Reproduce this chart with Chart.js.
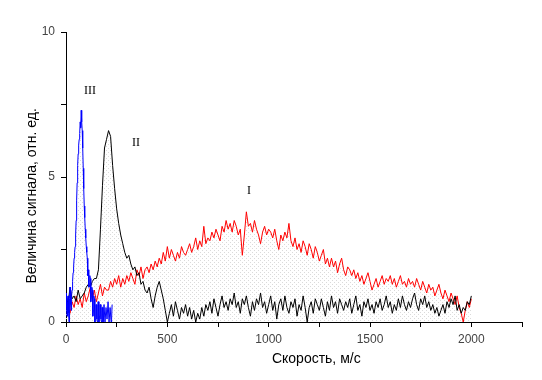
<!DOCTYPE html>
<html>
<head>
<meta charset="utf-8">
<script src="https://cdn.jsdelivr.net/npm/chart.js@4.4.1/dist/chart.umd.min.js"></script>
<style>
  html, body { margin: 0; padding: 0; background: #fff; }
  canvas { display: block; }
</style>
</head>
<body>
<canvas id="chart" width="542" height="380"></canvas>
<script>
'use strict';
// Signal vs. speed, three spectra (I red, II black, III blue)
const xTitle = 'Скорость, м/с';
const yTitle = 'Величина сигнала, отн. ед.';
const xTickLabels = [0, 500, 1000, 1500, 2000];
const yTickLabels = [0, 5, 10];

// curve I (red), speed 10..2000 step 10
const redStart = 10;
const redStep = 10;
const redValues = [
  0.5, 0.3, 0.7, 0.5, 0.9, 0.6, 0.8, 0.5, 1.0, 0.7,
  0.9, 1.2, 0.8, 1.1, 0.7, 1.0, 1.3, 0.9, 1.2, 1.1,
  1.1, 1.4, 1.2, 1.5, 1.3, 1.6, 1.2, 1.5, 1.3, 1.6,
  1.4, 1.7, 1.5, 1.3, 1.8, 1.6, 1.9, 1.5, 1.8, 1.9,
  1.7, 2.0, 1.8, 2.1, 1.9, 2.2, 2.0, 2.4, 2.1, 2.6,
  2.2, 2.5, 2.3, 2.1, 2.4, 2.2, 2.6, 2.4, 2.3, 2.5,
  2.7, 2.4, 2.6, 2.9, 2.5, 2.8, 2.6, 3.3, 2.7, 2.9,
  2.8, 3.1, 2.9, 3.2, 3.0, 2.8, 3.3, 3.1, 3.5, 3.2,
  3.4, 3.1, 3.5, 3.3, 3.0, 3.2, 2.3, 3.0, 3.8, 3.3,
  3.4, 3.1, 3.5, 3.2, 3.0, 2.7, 3.1, 3.3, 3.0, 3.2,
  3.1, 2.9, 3.2, 2.8, 2.5, 3.0, 2.8, 3.1, 2.9, 3.4,
  2.8, 2.6, 2.9, 2.5, 2.7, 2.4, 2.8, 2.6, 2.3, 2.7,
  2.5, 2.2, 2.6, 2.4, 2.1, 2.3, 2.5, 2.0, 2.2, 1.9,
  2.2, 1.9, 2.1, 1.7, 2.0, 2.2, 1.8, 1.6, 1.9, 1.8,
  1.6, 1.8, 1.5, 1.7, 1.4, 1.6, 1.3, 1.5, 1.7, 1.4,
  1.1, 1.3, 1.5, 1.2, 1.4, 1.6, 1.3, 1.5, 1.4, 1.6,
  1.3, 1.5, 1.2, 1.4, 1.6, 1.3, 1.4, 1.2, 1.5, 1.3,
  1.4, 1.2, 1.5, 1.3, 1.1, 1.4, 1.2, 1.0, 1.3, 1.1,
  1.2, 0.9, 1.1, 1.3, 1.0, 0.8, 1.1, 0.9, 0.7, 1.0,
  0.8, 0.6, 0.9, 0.5, 0.3, 0.0, 0.4, 0.7, 0.5, 0.8
];

// curve II (black), speed 0..2000 step 10
const blackStart = 0;
const blackStep = 10;
const blackValues = [
  1.0, 0.6, 1.2, 0.8, 0.9, 0.7, 1.1, 0.8, 0.9, 1.0,
  1.2, 1.3, 1.2, 1.4, 1.5, 1.5, 1.8, 3.2, 4.7, 6.0,
  6.3, 6.6, 6.4, 5.4, 4.6, 3.9, 3.4, 3.0, 2.7, 2.4,
  2.2, 2.3, 2.0, 1.8, 1.9, 1.6, 1.7, 1.3, 1.4, 1.1,
  1.0, 1.2, 0.8, 0.5, 0.9, 1.2, 1.4, 1.1, 0.8, 0.4,
  0.0, 0.3, 0.6, 0.2, 0.7, 0.4, 0.1, 0.5, 0.3, 0.6,
  0.2, 0.5, 0.1, 0.4, 0.0, 0.3, 0.1, 0.5, 0.2, 0.6,
  0.4, 0.7, 0.3, 0.8, 0.5, 0.2, 0.6, 0.9, 0.5, 0.7,
  0.4, 0.8, 0.6, 1.0, 0.5, 0.7, 0.3, 0.8, 0.6, 0.9,
  0.5, 0.2, 0.7, 0.4, 0.8, 0.6, 1.0, 0.5, 0.7, 0.3,
  0.6, 0.9, 0.4, 0.7, 0.1, 0.6, 0.8, 0.4, 0.9, 0.5,
  0.3, 0.7, 0.5, 0.8, 0.2, 0.6, 0.4, 0.9, 0.5, 0.0,
  0.5, 0.7, 0.3, 0.8, 0.6, 0.4, 0.8, 0.5, 0.2, 0.7,
  0.4, 0.9, 0.5, 0.7, 0.3, 0.8, 0.6, 0.4, 0.7, 0.5,
  0.8, 0.3, 0.6, 0.9, 0.4, 0.6, 0.2, 0.7, 0.5, 0.8,
  0.4, 0.6, 0.3, 0.7, 0.5, 0.8, 0.4, 0.6, 0.9, 0.5,
  0.7, 0.3, 0.6, 0.4, 0.8, 0.5, 0.9, 0.6, 0.4, 0.7,
  0.5, 0.8, 1.0, 0.6, 0.4, 0.8, 0.6, 0.9, 0.5, 0.7,
  0.4, 0.6, 0.3, 0.5, 0.2, 0.4, 0.6, 0.3, 0.7, 0.5,
  0.8, 0.6, 0.9, 0.4, 0.6, 0.3, 0.5, 0.4, 0.7, 0.6,
  0.9
];

// curve III (blue), speed 0..230 step 2.5
const blueStart = 0;
const blueStep = 2.5;
const blueValues = [
  1.0, 0.5, 0.2, 0.7, 0.9, 0.3, 0.0, 0.8, 1.2, 0.6,
  0.4, 0.9, 1.1, 1.4, 1.7, 1.9, 2.2, 2.4, 2.6, 3.0,
  3.5, 4.2, 4.8, 5.4, 5.8, 6.1, 6.3, 6.5, 6.9, 6.7,
  7.3, 6.9, 6.6, 6.0, 5.3, 4.6, 4.0, 3.6, 3.2, 2.9,
  2.6, 2.4, 2.2, 1.6, 1.8, 1.2, 1.3, 1.6, 1.5, 0.7,
  0.9, 1.2, 1.1, 0.2, 0.4, 0.9, 0.8, 0.0, 0.1, 0.6,
  0.6, 0.1, 0.0, 0.7, 0.7, 0.0, 0.2, 0.6, 0.6, 0.1,
  0.0, 0.5, 0.5, 0.0, 0.1, 0.6, 0.6, 0.0, 0.0, 0.5,
  0.5, 0.1, 0.1, 0.7, 0.7, 0.0, 0.0, 0.5, 0.5, 0.0,
  0.1, 0.6, 0.6
];

// curve labels: text, speed, signal
const curveNames = ['I', 'II', 'III'];
const curveNameSpeed = [903, 345, 118];
const curveNameSignal = [4.52, 6.17, 7.97];

function toPoints(values, start, step) {
  return values.map((y, i) => ({ x: start + i * step, y: y }));
}

const ctx = document.getElementById('chart').getContext('2d');

// faint grey stipple under the curves (transparent between dots)
const tile = document.createElement('canvas');
tile.width = 4;
tile.height = 4;
const tctx = tile.getContext('2d');
tctx.fillStyle = '#dadada';
tctx.fillRect(0, 0, 1, 1);
tctx.fillRect(2, 2, 1, 1);
const stipple = ctx.createPattern(tile, 'repeat');

const textPlugin = {
  id: 'textPlugin',
  afterDraw(chart) {
    const c = chart.ctx;
    const xs = chart.scales.x;
    const ys = chart.scales.y;
    c.save();
    c.fillStyle = '#000';
    c.textAlign = 'center';
    c.textBaseline = 'middle';
    c.font = '14px "Liberation Sans", Arial, sans-serif';
    c.fillText(xTitle, xs.getPixelForValue(1235), ys.bottom + 37);
    c.save();
    c.translate(xs.left - 34, ys.getPixelForValue(4.35));
    c.rotate(-Math.PI / 2);
    c.fillText(yTitle, 0, 0);
    c.restore();
    c.font = '12px "Liberation Serif", "Times New Roman", serif';
    curveNames.forEach((name, i) => {
      c.fillText(name, xs.getPixelForValue(curveNameSpeed[i]), ys.getPixelForValue(curveNameSignal[i]));
    });
    c.restore();
  }
};

function lineSet(values, start, step, color) {
  return {
    data: toPoints(values, start, step),
    borderColor: color,
    borderWidth: 1,
    pointRadius: 0,
    tension: 0,
    fill: 'origin',
    backgroundColor: stipple
  };
}

new Chart(ctx, {
  type: 'line',
  data: {
    datasets: [
      lineSet(blueValues, blueStart, blueStep, '#0000ff'),
      lineSet(blackValues, blackStart, blackStep, '#000000'),
      lineSet(redValues, redStart, redStep, '#ff0000')
    ]
  },
  options: {
    responsive: false,
    animation: false,
    devicePixelRatio: 1,
    layout: { padding: { top: 32, right: 20, left: 0, bottom: 0 } },
    plugins: {
      legend: { display: false },
      tooltip: { enabled: false },
      filler: { drawTime: 'beforeDatasetsDraw' }
    },
    scales: {
      x: {
        type: 'linear',
        min: 0,
        max: 2250,
        afterFit: (s) => { s.height = 58; },
        border: { color: '#000', width: 1 },
        grid: { drawOnChartArea: false, drawTicks: true, tickLength: 5, tickColor: '#000' },
        ticks: {
          stepSize: 250,
          padding: 5,
          maxRotation: 0,
          autoSkip: false,
          color: '#444',
          font: { family: '"Liberation Sans", Arial, sans-serif', size: 12 },
          callback: (v) => xTickLabels.includes(v) ? String(v) : ''
        }
      },
      y: {
        min: 0,
        max: 10,
        afterFit: (s) => { s.width = 66; },
        border: { color: '#000', width: 1 },
        grid: { drawOnChartArea: false, drawTicks: true, tickLength: 5, tickColor: '#000' },
        ticks: {
          stepSize: 2.5,
          padding: 6,
          autoSkip: false,
          color: '#444',
          font: { family: '"Liberation Sans", Arial, sans-serif', size: 12 },
          callback: (v) => yTickLabels.includes(v) ? String(v) : ''
        }
      }
    }
  },
  plugins: [textPlugin]
});
</script>
</body>
</html>
